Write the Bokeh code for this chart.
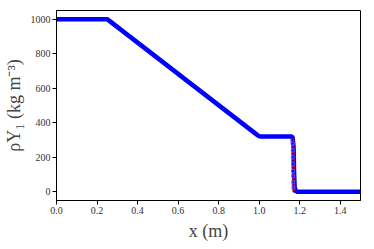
from bokeh.plotting import figure
from bokeh.embed import file_html
from bokeh.resources import INLINE
from bokeh.models import Range1d, FixedTicker

# Data
x_line = [0.0, 0.25, 0.99, 1.0, 1.01, 1.16, 1.165, 1.17, 1.172, 1.175, 1.18, 1.19, 1.5]
y_line = [1000, 1000, 330, 322, 320, 320, 316, 260, 120, 30, 5, 0, 0]

x_exact = [0.0, 0.25, 1.0, 1.168, 1.168, 1.5]
y_exact = [1000, 1000, 320, 320, 0, 0]

x_red = [1.166, 1.167, 1.168, 1.168, 1.169, 1.169, 1.17, 1.17, 1.171]
y_red = [300, 260, 220, 180, 140, 100, 70, 40, 15]

x_blue = [1.165, 1.166, 1.166, 1.167, 1.167, 1.168, 1.168, 1.169]
y_blue = [280, 240, 200, 160, 120, 90, 55, 25]

x_ticks = [0.0, 0.2, 0.4, 0.6, 0.8, 1.0, 1.2, 1.4]
y_ticks = [0, 200, 400, 600, 800, 1000]

FONT = "Liberation Serif"

p = figure(frame_width=304, frame_height=190, output_backend="svg", toolbar_location=None,
           x_range=Range1d(0, 1.5), y_range=Range1d(-50, 1050),
           min_border_left=53, min_border_right=4, min_border_top=10, min_border_bottom=36)

p.line(x_exact, y_exact, line_color="black", line_width=1.2)
p.line(x_line, y_line, line_color="#0000ff", line_width=4.5)
p.scatter(x_red, y_red, marker="circle", size=3, fill_color=None, line_color="red", line_width=0.8)
p.scatter(x_blue, y_blue, marker="square", size=3, fill_color=None, line_color="#6060ff", line_width=0.8)

p.grid.visible = False
p.outline_line_color = "black"
p.outline_line_width = 1

for ax in (p.xaxis[0], p.yaxis[0]):
    ax.minor_tick_line_color = None
    ax.major_tick_out = 4
    ax.major_tick_in = 0
    ax.major_label_text_font = FONT
    ax.major_label_text_font_size = "10px"
    ax.major_label_text_color = "#333333"
    ax.major_label_standoff = 2
    ax.axis_label_text_font = FONT
    ax.axis_label_text_font_size = "18px"
    ax.axis_label_text_font_style = "normal"
    ax.axis_line_color = "black"

p.xaxis.ticker = FixedTicker(ticks=x_ticks)
p.yaxis.ticker = FixedTicker(ticks=y_ticks)
p.xaxis.major_label_overrides = {t: f"{t:.1f}" for t in x_ticks}
p.xaxis.axis_label = "x (m)"
p.yaxis.axis_label = "ρY₁ (kg m⁻³)"
p.xaxis.axis_label_standoff = 4
p.yaxis.axis_label_standoff = 4

open("out.html", "w").write(file_html(p, INLINE))
